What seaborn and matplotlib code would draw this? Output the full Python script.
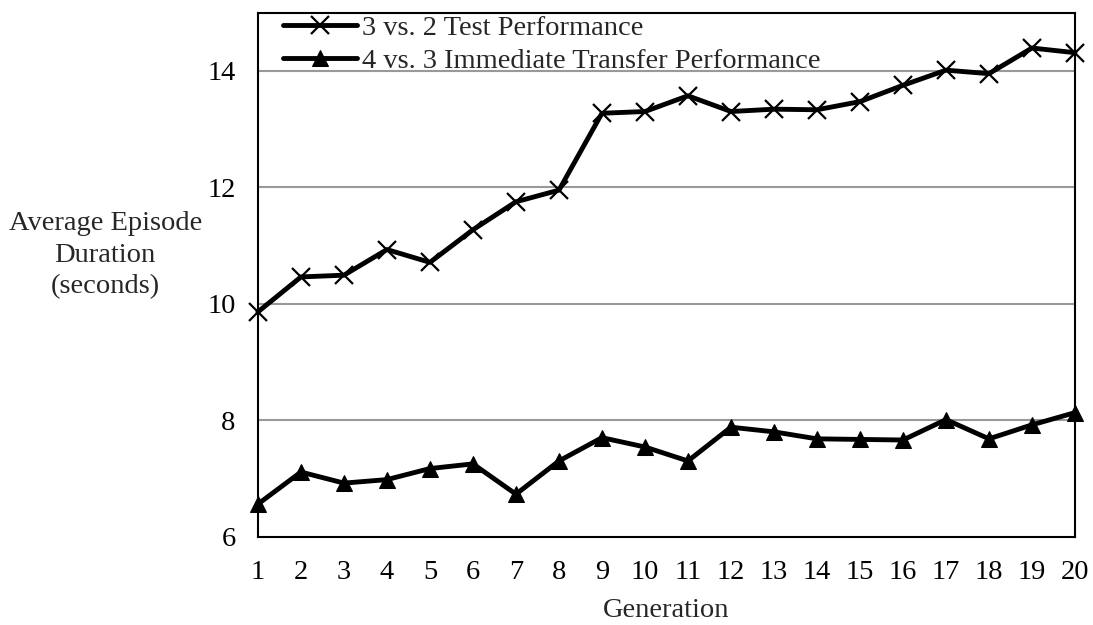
import pandas as pd
import seaborn as sns
import matplotlib.pyplot as plt

# values
generations = list(range(1, 21))
test_3v2 = [9.86, 10.46, 10.49, 10.93, 10.71, 11.27, 11.75, 11.95, 13.27, 13.30,
            13.57, 13.30, 13.34, 13.33, 13.47, 13.75, 14.01, 13.95, 14.39, 14.31]
transfer_4v3 = [6.56, 7.11, 6.92, 6.98, 7.17, 7.25, 6.73, 7.30, 7.70, 7.54,
                7.30, 7.88, 7.80, 7.68, 7.67, 7.66, 8.01, 7.68, 7.92, 8.13]
series_names = ["3 vs. 2 Test Performance", "4 vs. 3 Immediate Transfer Performance"]
y_ticks = [6, 8, 10, 12, 14]

df = pd.DataFrame({
    "generation": generations * 2,
    "duration": test_3v2 + transfer_4v3,
    "series": [series_names[0]] * 20 + [series_names[1]] * 20,
})

sns.set_theme(style="white")
plt.rcParams['font.family'] = ['Liberation Serif', 'DejaVu Serif']
fs = 20.5

fig = plt.figure(figsize=(10.93, 6.25), dpi=100)
ax = fig.add_axes([0.236, 0.1413, 0.7475, 0.8387])

# gray horizontal grid
for y in y_ticks[1:]:
    ax.axhline(y, color='#999999', lw=1.5, zorder=0)

sns.lineplot(data=df[df.series == series_names[0]], x='generation', y='duration',
             color='black', lw=3.5, marker='x', markersize=13, markeredgewidth=1.6,
             markeredgecolor='black', label=series_names[0], ax=ax, clip_on=False)
sns.lineplot(data=df[df.series == series_names[1]], x='generation', y='duration',
             color='black', lw=3.5, marker='^', markersize=12,
             markeredgecolor='black', label=series_names[1], ax=ax, clip_on=False)

ax.set_xlim(1, 20)
ax.set_ylim(6, 15)
ax.set_xticks(generations)
ax.set_yticks(y_ticks)
ax.tick_params(axis='both', direction='in', length=8, width=1.2, labelsize=fs,
               colors='black')
ax.tick_params(axis='y', pad=16)
ax.tick_params(axis='x', pad=17)
for s in ax.spines.values():
    s.set_color('black')
    s.set_linewidth(1.5)

ax.set_xlabel("Generation", fontsize=fs, labelpad=9)
ax.set_ylabel("Average Episode\nDuration\n(seconds)", fontsize=fs, rotation=0,
              ha='center', va='center', linespacing=1.35)
ax.yaxis.set_label_coords(-0.187, 0.537)

ax.legend(loc='upper left', bbox_to_anchor=(0.012, 1.025), frameon=False,
          handlelength=2.6, handletextpad=0.15, labelspacing=0.25, fontsize=fs,
          borderaxespad=0.15)

plt.savefig("out.png", dpi=100)
